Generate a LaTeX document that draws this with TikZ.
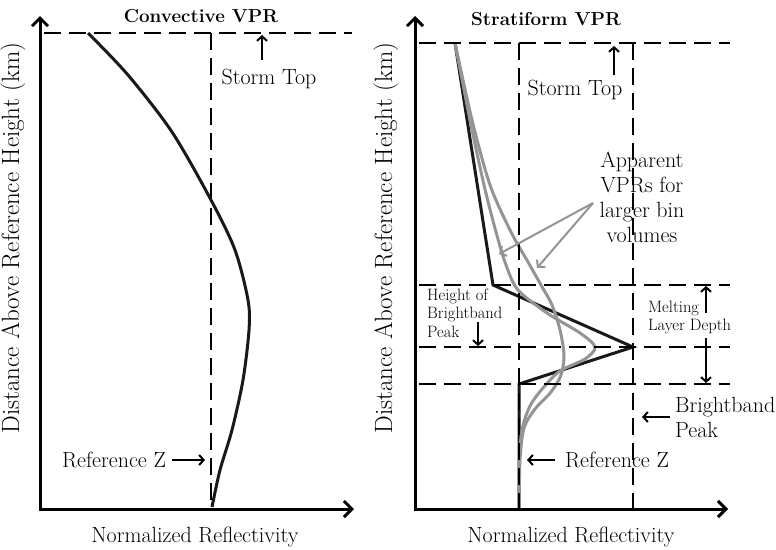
\documentclass[tikz,border=0pt]{standalone}
\usepackage{fontspec}
\usetikzlibrary{arrows.meta}
\begin{document}
\begin{tikzpicture}[x=1pt,y=-1pt,
  axis/.style={line width=3pt,line join=miter,{Straight Barb[length=8pt,width=16pt]}-{Straight Barb[length=8pt,width=16pt]}},
  dsh/.style={line width=2.5pt,dash pattern=on 17pt off 8pt},
  prof/.style={line width=3pt,black!90,line join=miter},
  gprof/.style={line width=3pt,black!42},
  pt/.style={line width=2pt,-{Straight Barb[length=4.5pt,width=10pt]}},
  gpt/.style={line width=2pt,black!42,-{Straight Barb[length=5pt,width=11pt]}},
  lbl/.style={font=\fontsize{22}{25}\selectfont,inner sep=0pt},
  ttl/.style={font=\fontsize{18.8}{22}\selectfont\bfseries,inner sep=0pt},
  ylbl/.style={font=\fontsize{25}{28}\selectfont,inner sep=0pt,rotate=90,anchor=base},
  sm/.style={font=\fontsize{16.5}{18.5}\selectfont,inner sep=0pt,align=left,anchor=north west}]
\useasboundingbox (0,0) rectangle (776,549);

% ---------------- Left panel ----------------
\coordinate (LYtop) at (40,16);
\coordinate (LO) at (40,509);
\coordinate (LXend) at (354,509);
\coordinate (LTl) at (44,33);
\coordinate (LTr) at (352,33);
\coordinate (LVt) at (211,33);
\coordinate (LVb) at (211,509);
\draw[dsh] (LTl) -- (LTr);
\draw[dsh] (LVt) -- (LVb);
\draw[prof] plot[smooth] coordinates {(88,33) (128,75) (172,132) (211,200) (235,250) (248,300) (249,330) (243,380) (232,430) (220,470) (212,507)};
\draw[axis] (LYtop) -- (LO) -- (LXend);

\node[ttl,anchor=base] (ltitle) at (201,22) {Convective VPR};
\node[lbl,anchor=base] (lstorm) at (269,84) {Storm Top};
\coordinate (lsta) at (262,60);
\coordinate (lstb) at (262,35);
\draw[pt] (lsta) -- (lstb);
\node[lbl,anchor=base west] (lref) at (62,467) {Reference Z};
\coordinate (lrefa) at (172,460);
\coordinate (lrefb) at (205,460);
\draw[pt] (lrefa) -- (lrefb);
\node[lbl,anchor=base] (lx) at (195,542) {Normalized Reflectivity};
\node[ylbl] (ly) at (19,238) {Distance Above Reference Height (km)};

% ---------------- Right panel ----------------
\coordinate (RYtop) at (415,16);
\coordinate (RO) at (415,509);
\coordinate (RXend) at (728,509);
\coordinate (st) at (455,43);
\coordinate (bb1) at (493,285);
\coordinate (pk) at (633,347);
\coordinate (bb2) at (519,384);
\coordinate (rb) at (519,509);
\draw[prof] (st) -- (bb1) -- (pk) -- (bb2) -- (rb);
\draw[gprof] plot[smooth] coordinates {(455,43) (470,120) (484,185) (496,232) (506,265) (518,290) (547,313) (580,333) (595,347) (585,359) (560,371) (543,388) (530,406) (522,430) (519,465) (519,509)};
\draw[gprof] plot[smooth] coordinates {(455,43) (472,120) (490,185) (511,232) (528,262) (541,285) (552,305) (560,330) (564,355) (561,375) (551,392) (535,409) (524,428) (520,460) (519,509)};

\foreach \yy/\nm in {43/a,285/b,347/c,384/d}{
  \coordinate (h\nm l) at (419,\yy);
  \coordinate (h\nm r) at (730,\yy);
  \draw[dsh] (h\nm l) -- (h\nm r);
}
\coordinate (v1t) at (519,43);
\coordinate (v1b) at (519,509);
\coordinate (v2t) at (633,43);
\coordinate (v2b) at (633,509);
\draw[dsh] (v1t) -- (v1b);
\draw[dsh] (v2t) -- (v2b);
\draw[axis] (RYtop) -- (RO) -- (RXend);

\node[ttl,anchor=base] (rtitle) at (546,25) {Stratiform VPR};
\node[lbl,anchor=base] (rstorm) at (575,95) {Storm Top};
\coordinate (rsta) at (614,75);
\coordinate (rstb) at (614,46);
\draw[pt] (rsta) -- (rstb);

\node[lbl,align=center] (app) at (642,197) {Apparent\\VPRs for\\larger bin\\volumes};
\coordinate (appo) at (593,203);
\coordinate (gA) at (499,254);
\coordinate (gB) at (537,268);
\draw[gpt] (appo) -- (gA);
\draw[gpt] (appo) -- (gB);

\node[sm] (hbp) at (427,288.4) {Height of\\Brightband\\Peak};
\coordinate (hbpa) at (478,322);
\coordinate (hbpb) at (478,346);
\draw[pt] (hbpa) -- (hbpb);

\node[sm] (mld) at (648,300.5) {Melting\\Layer Depth};
\coordinate (mlu1) at (706,313);
\coordinate (mlu2) at (706,286);
\coordinate (mld1) at (706,338);
\coordinate (mld2) at (706,383);
\draw[pt] (mlu1) -- (mlu2);
\draw[pt] (mld1) -- (mld2);

\node[lbl,align=left,anchor=north west] (bbp) at (675,396.7) {Brightband\\Peak};
\coordinate (bbpa) at (670,417);
\coordinate (bbpb) at (642,417);
\draw[pt] (bbpa) -- (bbpb);

\node[lbl,anchor=base west] (rref) at (565,467) {Reference Z};
\coordinate (rrefa) at (555,460);
\coordinate (rrefb) at (527,460);
\draw[pt] (rrefa) -- (rrefb);

\node[lbl,anchor=base] (rx) at (571,542) {Normalized Reflectivity};
\node[ylbl] (ry) at (392,238) {Distance Above Reference Height (km)};
\end{tikzpicture}
\end{document}
